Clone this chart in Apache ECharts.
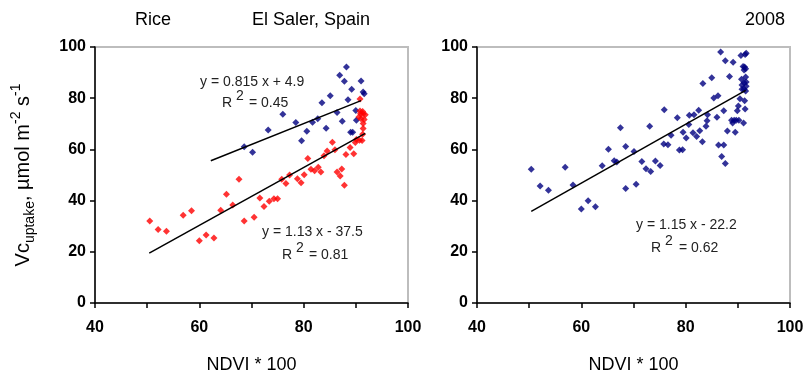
<!DOCTYPE html>
<html>
<head>
<meta charset="utf-8">
<script src="https://cdn.jsdelivr.net/npm/echarts@6/dist/echarts.min.js"></script>
<style>
  html, body { margin: 0; padding: 0; background: #fff; }
  #chart { width: 807px; height: 379px; }
</style>
</head>
<body>
<div id="chart"></div>
<script>
// left panel, red points [NDVI*100, Vc]
const leftRed = [
  [50.5, 32.0], [52.1, 28.7], [53.7, 28.0], [56.9, 34.3], [58.5, 36.0], [60.0, 24.3],
  [61.3, 26.6], [62.8, 25.4], [64.1, 36.2], [65.2, 42.5], [66.4, 38.3], [67.6, 48.3],
  [68.6, 32.0], [70.5, 33.5], [71.6, 41.0], [72.4, 37.7], [73.4, 39.7], [74.3, 40.7],
  [75.0, 40.7], [75.8, 48.3], [76.6, 46.7], [77.3, 50.0], [78.8, 48.5], [79.5, 47.0],
  [80.1, 50.1], [80.8, 56.4], [81.4, 52.2], [82.1, 51.7], [82.8, 53.0], [83.3, 51.2],
  [83.9, 57.5], [84.5, 59.4], [85.5, 62.8], [86.0, 59.9], [86.4, 51.2], [87.0, 49.6],
  [87.3, 52.3], [87.8, 46.0], [88.1, 58.0], [88.9, 60.7], [89.6, 58.3], [89.9, 62.7],
  [90.1, 63.9], [90.7, 63.6], [91.2, 63.5], [91.3, 65.9], [91.4, 68.2], [91.4, 70.1],
  [91.6, 71.7], [91.0, 72.0], [90.6, 72.7], [90.9, 73.9], [91.4, 73.9], [91.8, 73.5],
  [91.3, 74.8], [90.8, 75.0], [90.8, 79.7]
];
// left panel, blue points
const leftBlue = [
  [68.6, 61.0], [70.2, 58.9], [73.2, 67.6], [76.0, 73.7], [78.5, 70.5], [79.6, 63.4],
  [80.6, 67.1], [81.7, 70.6], [82.7, 72.0], [83.5, 78.2], [84.3, 68.3], [85.1, 81.0],
  [86.4, 74.4], [86.9, 89.0], [87.4, 71.0], [87.8, 86.6], [88.2, 92.2], [88.5, 79.4],
  [89.0, 66.7], [89.4, 66.7], [89.2, 83.5], [90.0, 75.2], [90.1, 71.4], [91.0, 86.7],
  [91.4, 82.4], [91.6, 81.7]
];
// right panel, blue points
const rightBlue = [
  [50.4, 52.2], [52.1, 45.7], [53.7, 44.0], [56.9, 53.0], [58.4, 46.1], [60.0, 36.7],
  [61.3, 39.9], [62.7, 37.6], [64.0, 53.6], [65.2, 60.1], [66.3, 55.6], [66.8, 55.1],
  [67.5, 68.5], [68.5, 61.1], [68.5, 44.7], [70.1, 59.2], [70.5, 46.4], [71.6, 55.3],
  [72.4, 52.4], [73.3, 51.4], [73.1, 69.0], [74.2, 55.5], [75.1, 53.7], [75.8, 62.1],
  [76.6, 61.8], [75.9, 75.5], [77.2, 65.5], [78.4, 72.4], [78.8, 59.8], [79.4, 59.9],
  [79.5, 66.7], [80.1, 64.5], [80.7, 73.3], [80.6, 69.7], [81.6, 73.5], [81.4, 66.5],
  [82.1, 65.0], [82.5, 75.3], [82.7, 67.3], [83.2, 63.0], [83.3, 85.7], [83.9, 69.0],
  [84.2, 73.5], [84.1, 71.2], [85.0, 88.0], [85.4, 80.1], [86.2, 81.0], [86.0, 72.6],
  [86.3, 61.7], [86.7, 98.0], [86.9, 57.2], [87.3, 75.1], [87.3, 61.7], [87.6, 54.5],
  [87.6, 94.6], [88.0, 67.2], [88.4, 88.5], [89.1, 94.0], [88.8, 71.4], [89.3, 71.4],
  [89.7, 71.4], [90.2, 71.4], [89.0, 70.3], [89.5, 66.7], [89.9, 75.1], [90.1, 77.0],
  [90.4, 79.8], [90.6, 96.7], [90.7, 87.4], [91.0, 92.4], [91.3, 92.2], [91.2, 91.0],
  [91.5, 91.5], [91.1, 70.3], [91.3, 79.0], [91.4, 97.1], [91.6, 97.6], [91.5, 88.3],
  [90.8, 85.2], [91.2, 86.0], [91.6, 86.3], [91.6, 84.7], [90.8, 83.5], [91.2, 83.5],
  [91.5, 82.8], [91.4, 75.8]
];
// regressions: [slope, intercept, xStart, xEnd]
const leftBlueFit = [0.815, 4.9, 62.2, 91.0];
const leftRedFit = [1.13, -37.5, 50.4, 91.8];
const rightFit = [1.15, -22.2, 50.4, 91.5];

const fitLine = f => [[f[2], f[0] * f[2] + f[1]], [f[3], f[0] * f[3] + f[1]]];

const FONT = 'Liberation Sans, Arial, sans-serif';
const NAVY = '#000080';
const RED = '#ff0000';

const chart = echarts.init(document.getElementById('chart'));

const xAxisBase = gridIndex => ({
  type: 'value', gridIndex, min: 40, max: 100, interval: 10,
  name: 'NDVI * 100', nameLocation: 'middle', nameGap: 53,
  nameTextStyle: { fontFamily: FONT, fontSize: 18, color: '#000' },
  axisLine: { onZero: false, lineStyle: { color: '#000', width: 1.5 } },
  axisTick: { show: true, length: 5, lineStyle: { color: '#000', width: 1.5 } },
  axisLabel: {
    fontFamily: FONT, fontSize: 16, fontWeight: 'bold', color: '#000', margin: 17,
    formatter: v => (v % 20 === 0 ? String(v) : '')
  },
  splitLine: { show: false }
});

const yAxisBase = gridIndex => ({
  type: 'value', gridIndex, min: 0, max: 100, interval: 20,
  axisLine: { show: true, onZero: false, lineStyle: { color: '#000', width: 1.5 } },
  axisTick: { show: true, length: 5, lineStyle: { color: '#000', width: 1.5 } },
  axisLabel: { fontFamily: FONT, fontSize: 16, fontWeight: 'bold', color: '#000', margin: 9 },
  splitLine: { show: false }
});

const yLeft = yAxisBase(0);
yLeft.name = '{m|Vc}{s|uptake}{m|, µmol m}{u|-2}{m| s}{u|-1}';
yLeft.nameLocation = 'middle';
yLeft.nameGap = 58;
yLeft.nameTextStyle = {
  fontFamily: FONT, color: '#000',
  rich: {
    m: { fontFamily: FONT, fontSize: 20, lineHeight: 28, color: '#000' },
    s: { fontFamily: FONT, fontSize: 14, verticalAlign: 'bottom', color: '#000' },
    u: { fontFamily: FONT, fontSize: 14, verticalAlign: 'top', color: '#000' }
  }
};

const scatterStyle = color => ({
  type: 'scatter', symbol: 'diamond', symbolSize: 7,
  itemStyle: { color }, z: 3
});
const lineStyle = {
  type: 'line', showSymbol: false, symbol: 'none',
  lineStyle: { color: '#000', width: 1.5 }, z: 4, silent: true
};

const txt = (left, top, text, size) => ({
  type: 'text', left, top,
  style: { text, fontFamily: FONT, fontSize: size || 14, fill: '#222' }
});

chart.setOption({
  animation: false,
  backgroundColor: '#fff',
  grid: [
    { left: 95, top: 47, width: 313, height: 260, show: true, borderColor: '#bdbdbd', borderWidth: 2 },
    { left: 477, top: 47, width: 313, height: 260, show: true, borderColor: '#bdbdbd', borderWidth: 2 }
  ],
  xAxis: [xAxisBase(0), xAxisBase(1)],
  yAxis: [yLeft, yAxisBase(1)],
  series: [
    Object.assign({ data: leftBlue, xAxisIndex: 0, yAxisIndex: 0 }, scatterStyle(NAVY)),
    Object.assign({ data: leftRed, xAxisIndex: 0, yAxisIndex: 0 }, scatterStyle(RED)),
    Object.assign({ data: fitLine(leftBlueFit), xAxisIndex: 0, yAxisIndex: 0 }, lineStyle),
    Object.assign({ data: fitLine(leftRedFit), xAxisIndex: 0, yAxisIndex: 0 }, lineStyle),
    Object.assign({ data: rightBlue, xAxisIndex: 1, yAxisIndex: 1 }, scatterStyle(NAVY)),
    Object.assign({ data: fitLine(rightFit), xAxisIndex: 1, yAxisIndex: 1 }, lineStyle)
  ],
  graphic: [
    { type: 'text', left: 135, top: 11, style: { text: 'Rice', fontFamily: FONT, fontSize: 18, fill: '#000' } },
    { type: 'text', left: 252, top: 11, style: { text: 'El Saler, Spain', fontFamily: FONT, fontSize: 18, fill: '#000' } },
    { type: 'text', left: 745, top: 11, style: { text: '2008', fontFamily: FONT, fontSize: 18, fill: '#000' } },
    txt(200, 75, 'y = 0.815 x + 4.9'),
    txt(222, 96, 'R'), txt(236, 89, '2'), txt(249, 96, '= 0.45'),
    txt(262, 225, 'y = 1.13 x - 37.5'),
    txt(282, 248, 'R'), txt(296, 241, '2'), txt(309, 248, '= 0.81'),
    txt(636, 218, 'y = 1.15 x - 22.2'),
    txt(651, 241, 'R'), txt(665, 234, '2'), txt(679, 241, '= 0.62')
  ]
});
</script>
</body>
</html>
